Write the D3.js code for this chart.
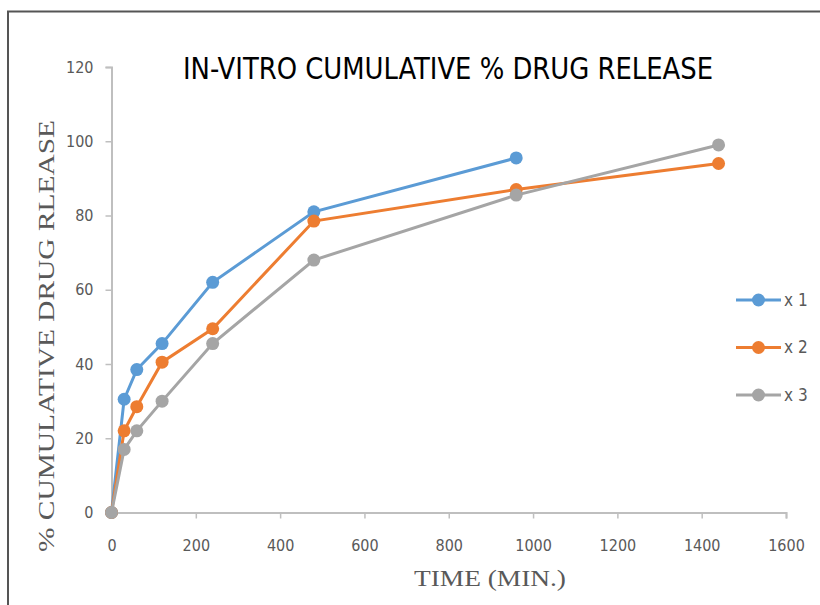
<!DOCTYPE html>
<html lang="en">
<head>
    <meta charset="UTF-8">
    <title>In-vitro cumulative % drug release</title>
    <script src="https://cdnjs.cloudflare.com/ajax/libs/d3/7.8.5/d3.min.js"></script>
    <style>
        body { margin: 0; background: white; }
        svg { display: block; }
        .tick text { font-family: "DejaVu Sans Condensed", "Liberation Sans", sans-serif; font-size: 16px; fill: #595959; }
    </style>
</head>
<body>
<div id="chart"></div>
<script>
    // release data, time in minutes
    const times = [0, 30, 60, 120, 240, 480, 960, 1440];
    const x1 = [0, 30.5, 38.5, 45.5, 62, 81, 95.5];
    const x2 = [0, 22, 28.5, 40.5, 49.5, 78.5, 87, 94];
    const x3 = [0, 17, 22, 30, 45.5, 68, 85.5, 99];
    const seriesNames = ['x 1', 'x 2', 'x 3'];
    const xTicks = [0, 200, 400, 600, 800, 1000, 1200, 1400, 1600];
    const yTicks = [0, 20, 40, 60, 80, 100, 120];

    const colors = ['#5b9bd5', '#ed7d31', '#a5a5a5'];
    const width = 820, height = 605;

    const svg = d3.select('#chart').append('svg')
        .attr('width', width)
        .attr('height', height);

    // outer frame (only top and left visible)
    svg.append('path')
        .attr('d', `M8,${height} V11.5 H${width}`)
        .attr('fill', 'none')
        .attr('stroke', '#555')
        .attr('stroke-width', 2);

    const x = d3.scaleLinear().domain([0, 1600]).range([111.5, 786]);
    const y = d3.scaleLinear().domain([0, 120]).range([512.5, 67]);

    const xAxis = svg.append('g')
        .attr('transform', `translate(0,${y(0)})`)
        .call(d3.axisBottom(x).tickValues(xTicks).tickFormat(d3.format('d')).tickSize(6).tickPadding(21));
    const yAxis = svg.append('g')
        .attr('transform', `translate(${x(0)},0)`)
        .call(d3.axisLeft(y).tickValues(yTicks).tickSize(6).tickPadding(12));
    [xAxis, yAxis].forEach(a => {
        a.select('.domain').attr('stroke', '#bfbfbf').attr('stroke-width', 2);
        a.selectAll('.tick line').attr('stroke', '#bfbfbf').attr('stroke-width', 1.5);
    });
    xAxis.selectAll('.tick').filter(d => d === 0).select('line').remove();

    const data = [x1, x2, x3].map((vals, i) => ({
        name: seriesNames[i],
        color: colors[i],
        points: vals.map((v, j) => ({t: times[j], v}))
    }));

    const line = d3.line().x(d => x(d.t)).y(d => y(d.v));

    const series = svg.append('g').selectAll('g')
        .data(data)
        .join('g');
    series.append('path')
        .attr('d', d => line(d.points))
        .attr('fill', 'none')
        .attr('stroke', d => d.color)
        .attr('stroke-width', 3);
    series.selectAll('circle')
        .data(d => d.points.map(p => ({...p, color: d.color})))
        .join('circle')
        .attr('cx', d => x(d.t))
        .attr('cy', d => y(d.v))
        .attr('r', 6.5)
        .attr('fill', d => d.color);

    // title
    svg.append('text')
        .attr('x', 448)
        .attr('y', 79)
        .attr('text-anchor', 'middle')
        .attr('textLength', 530)
        .attr('lengthAdjust', 'spacingAndGlyphs')
        .style('font-family', '"DejaVu Sans Condensed", sans-serif')
        .style('font-size', '31px')
        .attr('fill', '#000')
        .text('IN-VITRO CUMULATIVE % DRUG RELEASE');

    // axis titles
    svg.append('text')
        .attr('x', 490)
        .attr('y', 586)
        .attr('text-anchor', 'middle')
        .attr('textLength', 152)
        .attr('lengthAdjust', 'spacingAndGlyphs')
        .style('font-family', '"Liberation Serif", "DejaVu Serif", serif')
        .style('font-size', '24px')
        .attr('fill', '#595959')
        .text('TIME (MIN.)');

    svg.append('text')
        .attr('transform', 'translate(54,336) rotate(-90)')
        .attr('text-anchor', 'middle')
        .attr('textLength', 432)
        .attr('lengthAdjust', 'spacingAndGlyphs')
        .style('font-family', '"Liberation Serif", "DejaVu Serif", serif')
        .style('font-size', '24px')
        .attr('fill', '#595959')
        .text('% CUMULATIVE DRUG RLEASE');

    // legend
    const legend = svg.append('g').selectAll('g')
        .data(data)
        .join('g')
        .attr('transform', (d, i) => `translate(736,${300 + i * 47.5})`);
    legend.append('line')
        .attr('x1', 0).attr('x2', 45)
        .attr('stroke', d => d.color)
        .attr('stroke-width', 3);
    legend.append('circle')
        .attr('cx', 22.5)
        .attr('r', 6.5)
        .attr('fill', d => d.color);
    legend.append('text')
        .attr('x', 48)
        .attr('dy', '0.35em')
        .style('font-family', '"DejaVu Sans Condensed", sans-serif')
        .style('font-size', '17px')
        .attr('fill', '#595959')
        .text(d => d.name);
</script>
</body>
</html>
